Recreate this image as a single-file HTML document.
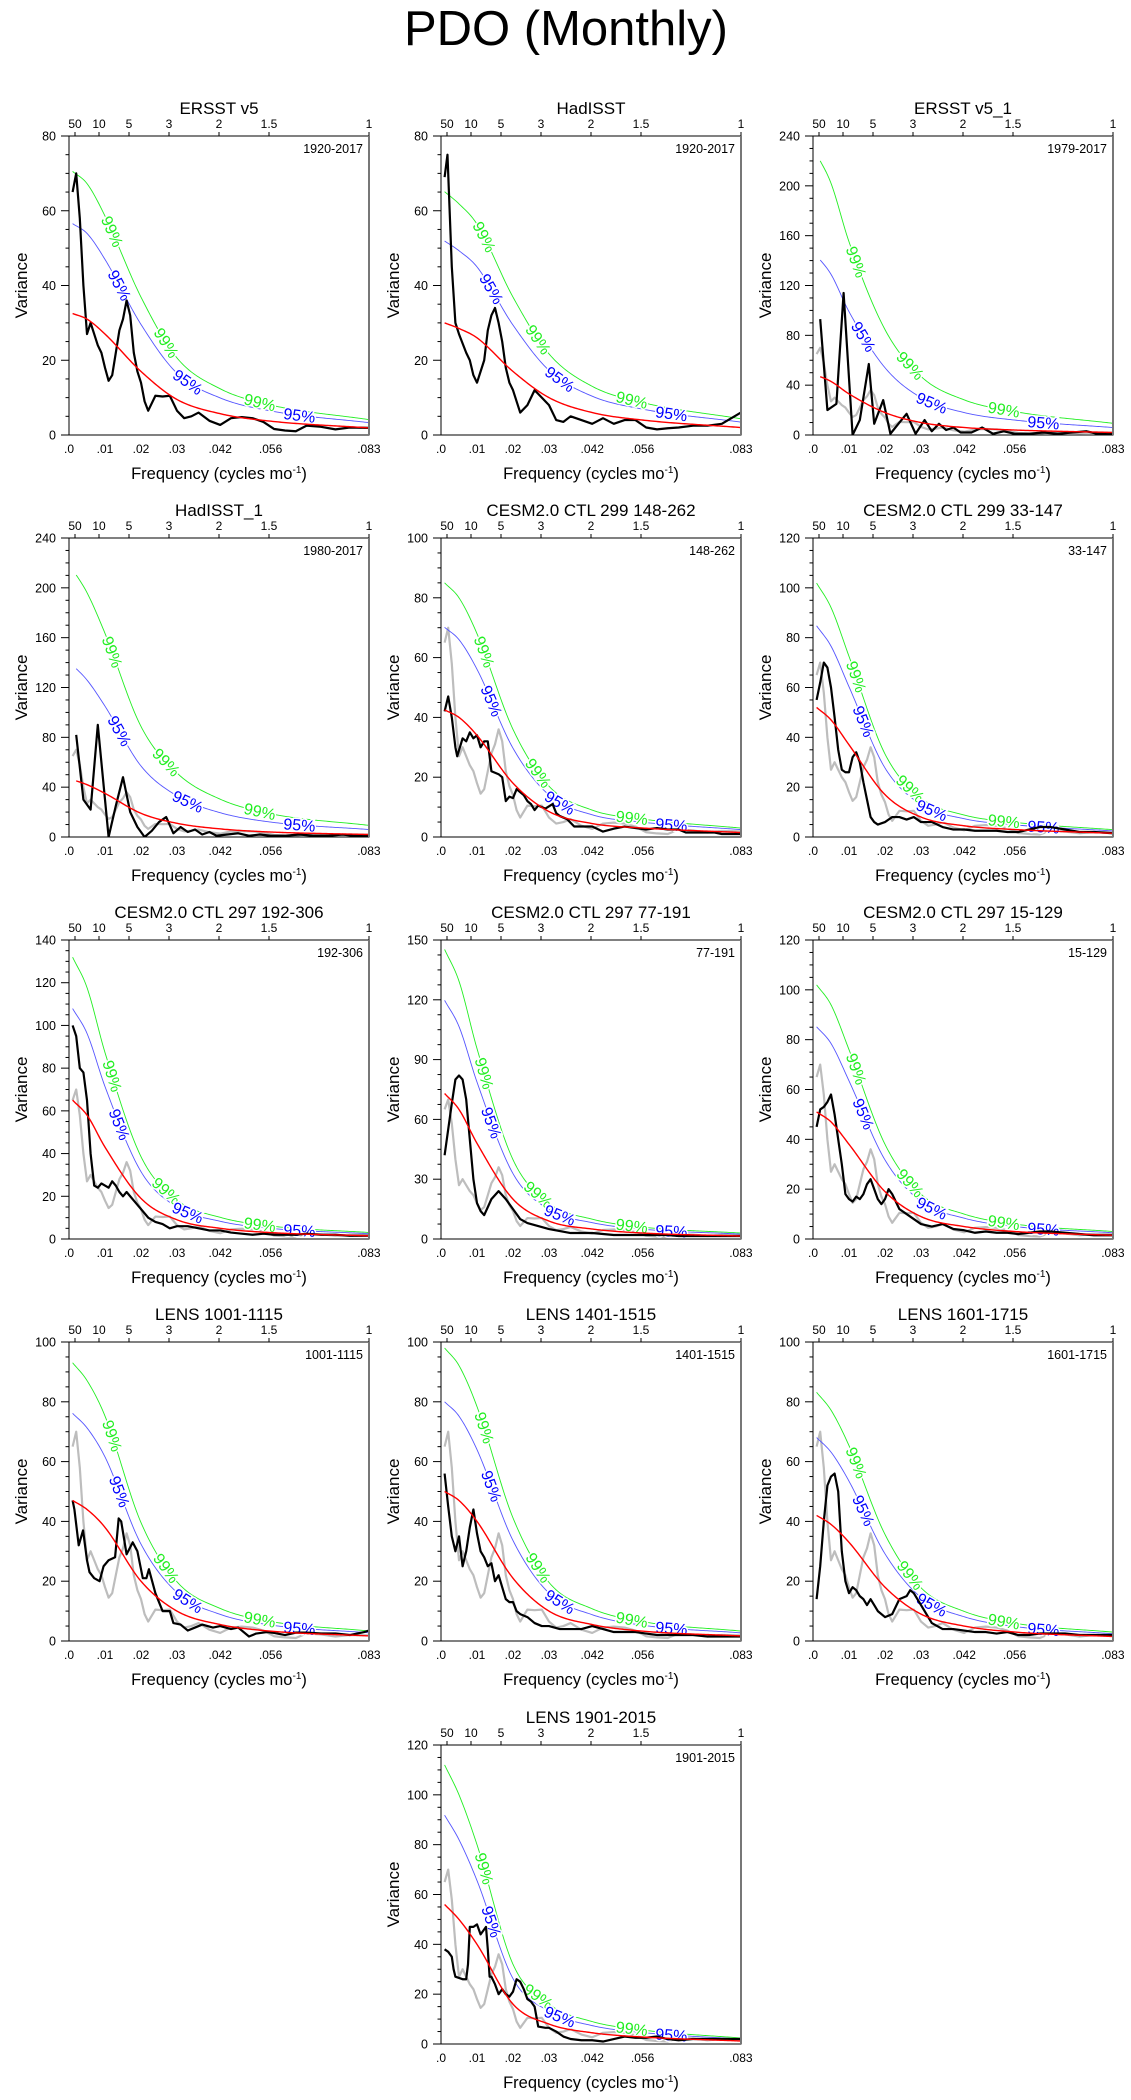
<!DOCTYPE html>
<html><head><meta charset="utf-8">
<style>
html,body{margin:0;padding:0;background:#fff;}
svg{display:block;font-family:"Liberation Sans",Arial,sans-serif;}
</style></head>
<body>
<svg id="chart" width="1131" height="2100" viewBox="0 0 1131 2100">
<text x="566" y="45" font-size="49" text-anchor="middle">PDO (Monthly)</text>
</svg>
<script>
// ---- shared axis data ----
const bottomTickValues = [0, 0.01, 0.02, 0.03, 0.042, 0.056, 0.0833];
const bottomTickLabels = [".0", ".01", ".02", ".03", ".042", ".056", ".083"];
const periodTickYears = [50, 10, 5, 3, 2, 1.5, 1];
const redKnotFreq = [0.001, 0.005, 0.01, 0.02, 0.03, 0.042, 0.056, 0.0833];

// reference spectrum (ERSST v5, grey in later panels)
const refFreq = [0.001,0.002,0.003,0.004,0.005,0.006,0.007,0.008,0.009,0.010,0.011,0.012,0.013,0.014,0.015,0.016,0.017,0.018,0.019,0.020,0.021,0.022,0.024,0.026,0.028,0.030,0.032,0.034,0.036,0.039,0.042,0.045,0.048,0.051,0.054,0.057,0.060,0.063,0.066,0.070,0.074,0.078,0.0833];
const refVar  = [65,70,58,40,27,30,27,24,22,18,14.5,16,22,28,31,36,32,22,17,14,9,6.5,10.5,10.3,10.5,6.5,4.5,5,6,3.8,2.7,4.5,4.8,4.5,3.5,1.6,1.2,1,2.5,2.2,1.5,2,1.9];

// panel 1 ERSST v5
const p1Freq = refFreq;
const p1Var = refVar;
const p1Red = [32.5,31,27,17,9.5,5.7,3.7,1.9];
// panel 2 HadISST
const p2Freq = [0.001,0.0018,0.003,0.004,0.005,0.007,0.008,0.009,0.010,0.012,0.013,0.014,0.015,0.016,0.017,0.018,0.019,0.020,0.022,0.024,0.026,0.028,0.030,0.032,0.034,0.036,0.039,0.042,0.045,0.048,0.051,0.054,0.057,0.060,0.063,0.066,0.070,0.074,0.078,0.0833];
const p2Var = [69,75,45,30,27,22,20,16,14,20,28,32,34,30,25,18,14,12,6,8,12,10,8,4,3.5,5,4,3,4.5,3,4,4,2,1.5,1.8,2,2.5,2.5,3,6];
const p2Red = [30,28.5,26,17,10,6,4,2];
// panel 3 ERSST v5_1
const p3Freq = [0.002,0.004,0.0065,0.0085,0.011,0.013,0.0155,0.017,0.0195,0.0215,0.024,0.026,0.0285,0.031,0.033,0.035,0.037,0.039,0.041,0.044,0.047,0.050,0.053,0.056,0.060,0.064,0.068,0.072,0.076,0.079,0.0833];
const p3Var = [93,20,25,114,0,12,57,9,28,1,10,17,1,12,3,9,4,6,2,2,6,1,3,1,1,2,1,2,3,1,1];
const p3Red = [48,43,33,18,10,6,4,2];
// panel 4 HadISST_1
const p4Freq = [0.002,0.004,0.006,0.008,0.011,0.013,0.015,0.017,0.019,0.021,0.023,0.025,0.027,0.029,0.031,0.033,0.035,0.037,0.039,0.041,0.044,0.047,0.050,0.053,0.056,0.060,0.064,0.068,0.072,0.076,0.079,0.0833];
const p4Var = [82,30,22,90,0,25,48,20,8,0,5,12,16,3,8,4,6,2,4,1,2,3,1,2,1,1,2,1,1,2,1,1];
const p4Red = [46,42,35,19,11,6.5,4,2];
// panel 5 CESM2.0 CTL 299 148-262
const p5Freq = [0.001,0.002,0.003,0.004,0.0045,0.006,0.007,0.008,0.009,0.010,0.011,0.012,0.013,0.014,0.016,0.017,0.018,0.019,0.020,0.021,0.022,0.023,0.024,0.025,0.026,0.027,0.028,0.029,0.031,0.032,0.033,0.035,0.037,0.040,0.042,0.045,0.048,0.051,0.054,0.057,0.060,0.063,0.066,0.068,0.072,0.076,0.078,0.0833];
const p5Var = [42,47,40,30,27,33,32,35,33,34,30,32,32,22,21,20,12,13.5,13,16,15,14,12,11,9,10.5,10,9.5,11,8,7,6,3.5,3.5,3.5,1.8,2.8,3.5,3,2.5,3,2.5,2.5,1.5,1.5,1.5,1,1];
const p5Red = [42.5,40,34,18,8.5,4.5,3,1.5];
// panel 6 CESM2.0 CTL 299 33-147
const p6Freq = [0.001,0.002,0.003,0.004,0.005,0.006,0.007,0.008,0.009,0.010,0.011,0.012,0.013,0.014,0.015,0.016,0.017,0.018,0.020,0.022,0.024,0.026,0.028,0.030,0.033,0.036,0.039,0.042,0.045,0.048,0.051,0.054,0.057,0.060,0.063,0.066,0.070,0.074,0.078,0.0833];
const p6Var = [55,62,70,68,60,48,35,27,26,26,32,34,30,22,15,8,6,5,6,8,8,7,8,6,6,4,3,3,2.5,2.5,2.5,2,2,3,4,4,3,2,2,1.5];
const p6Red = [52,47,37,17,8,4.5,3,1.5];
// panel 7 CESM2.0 CTL 297 192-306
const p7Freq = [0.001,0.002,0.003,0.004,0.005,0.006,0.007,0.008,0.009,0.010,0.011,0.012,0.013,0.014,0.015,0.016,0.018,0.020,0.022,0.024,0.026,0.028,0.030,0.033,0.036,0.039,0.042,0.045,0.048,0.051,0.054,0.057,0.060,0.063,0.066,0.070,0.074,0.078,0.0833];
const p7Var = [100,95,80,78,65,40,25,24,26,25,24,27,25,22,20,22,18,14,10,8,7,5,6,6,5,4,4,3,2.5,2,2.5,2,2,2,2.5,2,2,1.5,1.5];
const p7Red = [65,58,43,19,9,5,3,1.5];
// panel 8 CESM2.0 CTL 297 77-191
const p8Freq = [0.001,0.002,0.003,0.004,0.005,0.006,0.007,0.008,0.009,0.010,0.011,0.012,0.013,0.014,0.015,0.016,0.017,0.018,0.020,0.022,0.024,0.026,0.028,0.030,0.033,0.036,0.039,0.042,0.045,0.048,0.051,0.054,0.057,0.060,0.063,0.066,0.070,0.074,0.078,0.0833];
const p8Var = [42,55,68,80,82,80,70,50,30,18,14,12,16,20,22,24,22,20,15,10,8,7,6,5,4,3,3,3,2.5,2,2,2,2,2,2,1.5,1.5,1.5,1.5,1.5];
const p8Red = [73,65,48,20,9,5,3,1.5];
// panel 9 CESM2.0 CTL 297 15-129
const p9Freq = [0.001,0.002,0.003,0.004,0.005,0.006,0.007,0.008,0.009,0.010,0.011,0.012,0.013,0.014,0.015,0.016,0.017,0.018,0.019,0.020,0.021,0.022,0.024,0.026,0.028,0.030,0.033,0.036,0.039,0.042,0.045,0.048,0.051,0.054,0.057,0.060,0.063,0.066,0.070,0.074,0.078,0.0833];
const p9Var = [45,52,53,55,58,50,40,30,18,16,15,17,16,18,22,24,20,16,14,16,20,18,12,10,8,6,5,6,4,3.5,2.5,3,2.5,2.5,2,2.5,3,3,2.5,2,1.5,1.5];
const p9Red = [51,47,38,19,9,5,3,1.5];
// panel 10 LENS 1001-1115
const p10Freq = [0.001,0.0015,0.0027,0.0039,0.005,0.0057,0.007,0.0085,0.0096,0.011,0.0128,0.0138,0.0145,0.016,0.0177,0.019,0.0205,0.0215,0.0222,0.024,0.026,0.028,0.029,0.031,0.033,0.035,0.037,0.040,0.042,0.045,0.047,0.050,0.052,0.055,0.057,0.060,0.063,0.066,0.070,0.074,0.078,0.082,0.0833];
const p10Var = [47,44,32,37,27,23,21,20,25,27,28,41,40,29,33,30,21,21,24,16,10,10,6,5.5,3.5,4.5,5.5,4.5,5,4,4.5,1.5,2.5,3,2.7,2,2.8,2.8,2.5,2.5,2,3,3.5];
const p10Red = [47,44,38,20,10,5.5,3.3,1.7];
// panel 11 LENS 1401-1515
const p11Freq = [0.001,0.002,0.003,0.004,0.005,0.006,0.007,0.008,0.009,0.010,0.011,0.012,0.013,0.014,0.015,0.016,0.017,0.018,0.019,0.020,0.021,0.022,0.024,0.026,0.028,0.030,0.033,0.036,0.039,0.042,0.045,0.048,0.051,0.054,0.057,0.060,0.063,0.066,0.070,0.074,0.078,0.0833];
const p11Var = [56,45,35,30,35,25,30,38,44,36,30,28,25,26,20,22,18,14,13,13,10,9,8,6,5,5,4,4,4,5,4,3,3,3,2.5,2,2,2,2,1.5,1.5,1.5];
const p11Red = [50,47,40,21,10,5.5,3.3,1.7];
// panel 12 LENS 1601-1715
const p12Freq = [0.001,0.002,0.003,0.004,0.005,0.006,0.007,0.008,0.009,0.010,0.011,0.012,0.013,0.014,0.015,0.016,0.017,0.018,0.020,0.022,0.024,0.026,0.027,0.028,0.030,0.033,0.036,0.039,0.042,0.045,0.048,0.051,0.054,0.057,0.060,0.063,0.066,0.070,0.074,0.078,0.0833];
const p12Var = [14,25,40,52,55,56,50,30,20,16,18,17,15,14,12,14,12,10,8,9,14,15,17,16,12,6,4,4,3.5,3,3,2.5,3,2,2,2.5,2.5,2.5,2,2,2];
const p12Red = [42,39,33,18,9,5,3,1.5];
// panel 13 LENS 1901-2015
const p13Freq = [0.001,0.002,0.003,0.0035,0.004,0.005,0.006,0.007,0.0075,0.008,0.009,0.010,0.011,0.012,0.0125,0.013,0.0135,0.014,0.015,0.016,0.017,0.018,0.019,0.020,0.021,0.022,0.023,0.024,0.025,0.026,0.027,0.029,0.030,0.032,0.034,0.036,0.039,0.042,0.045,0.048,0.051,0.054,0.057,0.060,0.063,0.066,0.070,0.074,0.078,0.0833];
const p13Var = [38,37,35,30,27,26.5,26,26,32,47,47,48,44,46,47,38,27,27,24,20,22,20,19,21,26,25,22,18,17,15,7,6.5,6.5,5,3,2,1.5,1.5,1,2,3,2.5,2.5,3,2,1.5,2,2,2,2];
const p13Red = [56,50,40,16,8,4.5,2.8,1.2];

// per-panel metadata
const titles = ["ERSST v5","HadISST","ERSST v5_1","HadISST_1","CESM2.0 CTL 299 148-262","CESM2.0 CTL 299 33-147","CESM2.0 CTL 297 192-306","CESM2.0 CTL 297 77-191","CESM2.0 CTL 297 15-129","LENS 1001-1115","LENS 1401-1515","LENS 1601-1715","LENS 1901-2015"];
const periodLabels = ["1920-2017","1920-2017","1979-2017","1980-2017","148-262","33-147","192-306","77-191","15-129","1001-1115","1401-1515","1601-1715","1901-2015"];
const yMaxes = [80,80,240,240,100,120,140,150,120,100,100,100,120];
const yMajorSteps = [20,20,40,40,20,20,20,30,20,20,20,20,20];
const sig95Factor = [1.74,1.73,3.0,3.0,1.65,1.63,1.66,1.64,1.67,1.62,1.6,1.62,1.64];
const sig99Factor = [2.17,2.17,4.7,4.67,2.0,1.96,2.03,1.99,2.0,1.98,1.96,1.98,2.0];
const showReference = [false,false,true,true,true,true,true,true,true,true,true,true,true];
const freqSets = [p1Freq,p2Freq,p3Freq,p4Freq,p5Freq,p6Freq,p7Freq,p8Freq,p9Freq,p10Freq,p11Freq,p12Freq,p13Freq];
const varSets = [p1Var,p2Var,p3Var,p4Var,p5Var,p6Var,p7Var,p8Var,p9Var,p10Var,p11Var,p12Var,p13Var];
const redSets = [p1Red,p2Red,p3Red,p4Red,p5Red,p6Red,p7Red,p8Red,p9Red,p10Red,p11Red,p12Red,p13Red];
const label99Freq = [0.012,0.027,0.053];
const label95Freq = [0.014,0.033,0.064];

// ---- layout ----
const colX = [69,441,813];
const rowY = [136,538,940,1342,1745];
const PW = 300, PH = 299, FMAX = 1/12;
const NS = "http://www.w3.org/2000/svg";
const svg = document.getElementById('chart');
function mk(tag, attrs, parent){const e=document.createElementNS(NS,tag);for(const k in attrs)e.setAttribute(k,attrs[k]);(parent||svg).appendChild(e);return e;}

function monotone(xs, ys){
  const n=xs.length, d=[], m=[];
  for(let i=0;i<n-1;i++) d.push((ys[i+1]-ys[i])/(xs[i+1]-xs[i]));
  m[0]=d[0]; m[n-1]=d[n-2];
  for(let i=1;i<n-1;i++){ m[i]=(d[i-1]*d[i]<=0)?0:(d[i-1]+d[i])/2; }
  for(let i=0;i<n-1;i++){ if(d[i]===0){m[i]=0;m[i+1]=0;continue;} const a=m[i]/d[i], b=m[i+1]/d[i], s=a*a+b*b; if(s>9){const t=3/Math.sqrt(s); m[i]=t*a*d[i]; m[i+1]=t*b*d[i];} }
  return function(x){
    let i=0; while(i<n-2 && x>xs[i+1]) i++;
    const h=xs[i+1]-xs[i], t=Math.max(0,Math.min(1,(x-xs[i])/h)), t2=t*t, t3=t2*t;
    return (2*t3-3*t2+1)*ys[i]+(t3-2*t2+t)*h*m[i]+(-2*t3+3*t2)*ys[i+1]+(t3-t2)*h*m[i+1];
  };
}

function drawPanel(k){
  const px = k===12 ? colX[1] : colX[k%3];
  const py = rowY[Math.floor(k/3)];
  const ymax = yMaxes[k];
  const xs = f => px + f/FMAX*PW;
  const ys = v => py + PH - Math.min(v,ymax)/ymax*PH;
  const g = mk('g',{});
  
  

  const t = mk('text',{x:px+PW/2,y:py-22,'font-size':17,'text-anchor':'middle'},g);
  t.textContent = titles[k];
  
  

  periodTickYears.forEach(p=>{
    const x = xs(1/(12*p));
    const tk = mk('line',{x1:x,x2:x,y1:py,y2:py-4,stroke:'#000','stroke-width':1},g);
    
    
    const tl = mk('text',{x:x,y:py-8,'font-size':12,'text-anchor':'middle'},g);
    tl.textContent = String(p);
    
    
  });
  bottomTickValues.forEach((v,i)=>{
    const tl = mk('text',{x:xs(v),y:py+PH+18,'font-size':12,'text-anchor':'middle'},g);
    tl.textContent = bottomTickLabels[i];
    
    
  });
  const step = yMajorSteps[k], minor = step/4;
  for(let v=0; v<=ymax+1e-9; v+=minor){
    const isMajor = Math.abs(v/step-Math.round(v/step))<1e-6;
    const y = ys(v);
    const tk = mk('line',{x1:px-(isMajor?8:3.5),x2:px,y1:y,y2:y,stroke:'#000','stroke-width':1},g);
    
    
    if(isMajor){
      const tl = mk('text',{x:px-13,y:y+4.5,'font-size':12.5,'text-anchor':'end'},g);
      tl.textContent = String(Math.round(v));
      
      
    }
  }
  const yl = mk('text',{x:0,y:0,'font-size':17,'text-anchor':'middle',transform:`translate(${px-42},${py+PH/2}) rotate(-90)`},g);
  yl.textContent = 'Variance';
  
  
  const xl = mk('text',{x:px+PW/2,y:py+PH+44,'font-size':16.5,'text-anchor':'middle'},g);
  xl.innerHTML = 'Frequency (cycles mo<tspan dy="-6" font-size="10">-1</tspan><tspan dy="6">)</tspan>';
  
  
  const yr = mk('text',{x:px+PW-6,y:py+17,'font-size':12.5,'text-anchor':'end'},g);
  yr.textContent = periodLabels[k];
  
  

  const cid='clip'+k;
  const cp = mk('clipPath',{id:cid},g);
  mk('rect',{x:px,y:py,width:PW,height:PH},cp);
  const plot = mk('g',{'clip-path':`url(#${cid})`},g);
  
  

  const red = monotone(redKnotFreq, redSets[k]);
  const f0 = freqSets[k][0];
  function curvePath(fac){
    let d=''; for(let i=0;i<=200;i++){const f=f0+(FMAX-f0)*i/200; d+=(i?'L':'M')+xs(f).toFixed(2)+','+ys(red(f)*fac).toFixed(2);} return d;
  }
  if(showReference[k]){
    const rp = mk('path',{d:refFreq.map((f,i)=>(i?'L':'M')+xs(f).toFixed(2)+','+ys(refVar[i]).toFixed(2)).join(''),fill:'none',stroke:'#bdbdbd','stroke-width':2.2,'stroke-linejoin':'round'},plot);
    
    
  }
  const c99 = mk('path',{d:curvePath(sig99Factor[k]),fill:'none',stroke:'#22ee22','stroke-width':0.9},plot);
  
  
  const c95 = mk('path',{d:curvePath(sig95Factor[k]),fill:'none',stroke:'#5555ff','stroke-width':0.9},plot);
  
  

  function addLabels(freqs, fac, txt, col, nm){
    freqs.forEach(f=>{
      const x1=xs(f-0.0008), y1=ys(red(f-0.0008)*fac), x2=xs(f+0.0008), y2=ys(red(f+0.0008)*fac);
      const ang = Math.atan2(y2-y1,x2-x1)*180/Math.PI;
      const x=xs(f), y=ys(red(f)*fac);
      const lt = mk('text',{x:0,y:5.5,'font-size':16,'text-anchor':'middle',fill:col,stroke:'#fff','stroke-width':3,'paint-order':'stroke',transform:`translate(${x.toFixed(1)},${y.toFixed(1)}) rotate(${ang.toFixed(1)})`},plot);
      lt.textContent = txt;
      
      
    });
  }
  addLabels(label99Freq, sig99Factor[k], '99%', '#22ee22', 'sig-99-label');
  addLabels(label95Freq, sig95Factor[k], '95%', '#0000ff', 'sig-95-label');

  const sp = mk('path',{d:freqSets[k].map((f,i)=>(i?'L':'M')+xs(f).toFixed(2)+','+ys(varSets[k][i]).toFixed(2)).join(''),fill:'none',stroke:'#000','stroke-width':2.2,'stroke-linejoin':'round'},plot);
  
  
  const rc = mk('path',{d:curvePath(1),fill:'none',stroke:'#ff0000','stroke-width':1.4},plot);
  
  

  const fr = mk('rect',{x:px,y:py,width:PW,height:PH,fill:'none',stroke:'#000','stroke-width':1},g);
  
  
  const rs = mk('line',{x1:px+PW,x2:px+PW,y1:py,y2:py+PH,stroke:'#777','stroke-width':2},g);
  
  
}
for(let k=0;k<13;k++) drawPanel(k);
</script>
</body></html>
